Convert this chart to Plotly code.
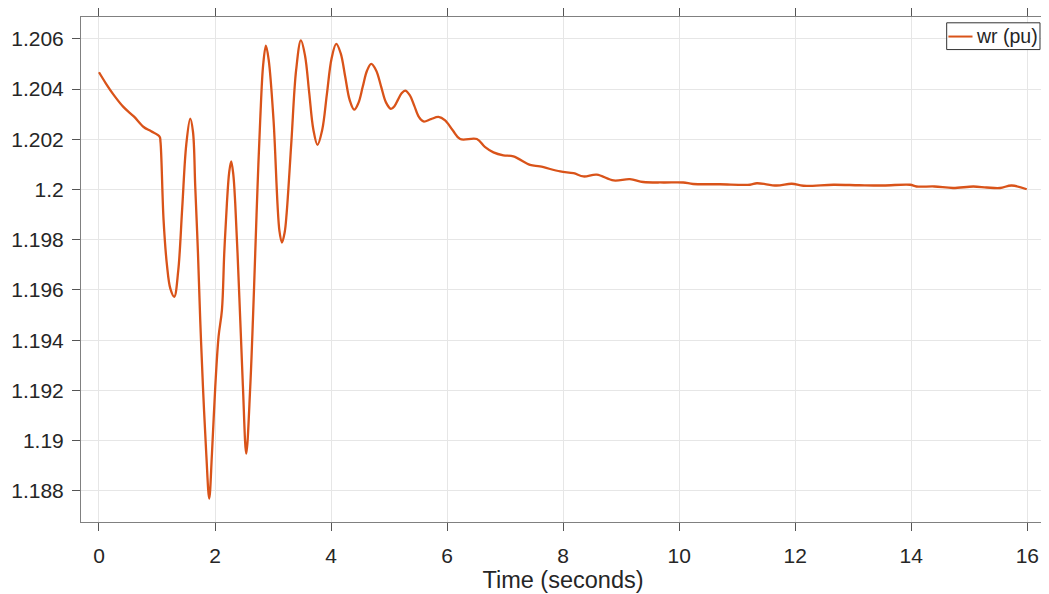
import plotly.graph_objects as go

# Time (s) and rotor speed wr (pu)
time_s = [0.00, 0.12, 0.25, 0.42, 0.60, 0.77, 0.90, 1.044, 1.06,
          1.113, 1.171, 1.23, 1.297, 1.366, 1.435, 1.504, 1.573, 1.62,
          1.659, 1.706, 1.745, 1.792, 1.849, 1.900, 1.947, 2.004, 2.061,
          2.119, 2.159, 2.205, 2.245, 2.279, 2.315, 2.348, 2.388, 2.435,
          2.481, 2.538, 2.607, 2.653, 2.693, 2.733, 2.779, 2.83, 2.877,
          2.925, 3.008, 3.11, 3.153, 3.20, 3.235, 3.3165, 3.398, 3.48,
          3.5515, 3.623, 3.6945, 3.766, 3.847, 3.9275, 4.008, 4.089, 4.1665,
          4.244, 4.3215, 4.399, 4.472, 4.5455, 4.619, 4.692, 4.777, 4.8615,
          4.946, 5.031, 5.0925, 5.154, 5.2155, 5.277, 5.356, 5.435, 5.514,
          5.593, 5.72, 5.851, 5.966, 6.10, 6.225, 6.513, 6.65, 6.799,
          6.97, 7.143, 7.43, 7.60, 7.95, 8.18, 8.35, 8.58, 8.87,
          9.15, 9.38, 9.73, 10.07, 10.24, 10.7, 11.22, 11.34, 11.68,
          11.94, 12.14, 12.66, 13.1, 13.52, 13.98, 14.09, 14.4, 14.72,
          15.07, 15.3, 15.53, 15.73, 15.99]
wr_pu = [1.20467, 1.20422, 1.20378, 1.20329, 1.20291, 1.20249, 1.20232, 1.20211, 1.20190,
         1.19879, 1.19700, 1.19605, 1.19573, 1.19677, 1.19928, 1.20178, 1.20282, 1.20230,
         1.20012, 1.19746, 1.19480, 1.19214, 1.18948, 1.18769, 1.18948, 1.19214, 1.19414,
         1.19520, 1.19746, 1.19946, 1.20070, 1.20112, 1.20060, 1.19946, 1.19746, 1.19480,
         1.19214, 1.18948, 1.19214, 1.19480, 1.19746, 1.20012, 1.20278, 1.20497, 1.20573,
         1.20516, 1.20278, 1.19835, 1.19789, 1.19829, 1.19907, 1.20192, 1.20476, 1.20594,
         1.20533, 1.20386, 1.20239, 1.20178, 1.20237, 1.20379, 1.20521, 1.20580, 1.20542,
         1.20449, 1.20356, 1.20318, 1.20345, 1.20409, 1.20473, 1.20500, 1.20474, 1.20411,
         1.20347, 1.20321, 1.20332, 1.20358, 1.20383, 1.20394, 1.20376, 1.20333, 1.20289,
         1.20271, 1.20280, 1.20289, 1.20275, 1.20235, 1.20201, 1.20201, 1.20170, 1.20148,
         1.20136, 1.20132, 1.20098, 1.20092, 1.20072, 1.20065, 1.20052, 1.20059, 1.20036,
         1.20041, 1.20030, 1.20028, 1.20028, 1.20022, 1.20021, 1.20019, 1.20025, 1.20016,
         1.20023, 1.20015, 1.20019, 1.20017, 1.20016, 1.20019, 1.20012, 1.20012, 1.20006,
         1.20012, 1.20008, 1.20006, 1.20016, 1.20001]

series_name = "wr (pu)"
x_ticks = [0, 2, 4, 6, 8, 10, 12, 14, 16]
y_ticks = [1.188, 1.19, 1.192, 1.194, 1.196, 1.198, 1.2, 1.202, 1.204, 1.206]
y_tick_text = ["1.188", "1.19", "1.192", "1.194", "1.196", "1.198", "1.2", "1.202", "1.204", "1.206"]

LINE_COLOR = "#D95319"
TEXT_COLOR = "#262626"
FONT = "Liberation Sans, Arial, sans-serif"

fig = go.Figure()
fig.add_trace(go.Scatter(
    x=time_s, y=wr_pu, mode="lines", name=series_name, showlegend=False,
    line=dict(color=LINE_COLOR, width=2.3, shape="spline", smoothing=1.0),
))

axis_common = dict(
    showline=True, linecolor="#808080", linewidth=1, mirror="ticks",
    ticks="outside", ticklen=8, tickcolor="#555555", tickwidth=1,
    showgrid=True, gridcolor="#e6e6e6", gridwidth=1, zeroline=False,
    automargin=False,
    tickfont=dict(family=FONT, size=21, color=TEXT_COLOR),
)

# Legend box drawn in paper coordinates (top-right, inside the axes)
fig.add_shape(type="rect", xref="paper", yref="paper",
              x0=0.8980, x1=0.9948, y0=0.9355, y1=0.9885,
              line=dict(color="#333333", width=1), fillcolor="white", layer="above")
fig.add_shape(type="line", xref="paper", yref="paper",
              x0=0.8998, x1=0.9248, y0=0.9613, y1=0.9613,
              line=dict(color=LINE_COLOR, width=2), layer="above")
fig.add_annotation(xref="paper", yref="paper", x=0.9265, y=0.9625,
                   xanchor="left", yanchor="middle", showarrow=False,
                   text=series_name, font=dict(family=FONT, size=19.5, color=TEXT_COLOR))

fig.update_layout(
    width=1041, height=586,
    margin=dict(l=73, r=4, t=9, b=72),
    paper_bgcolor="white", plot_bgcolor="white",
    showlegend=False,
    xaxis=dict(
        range=[-0.31, 16.305], tickvals=x_ticks, ticklabelstandoff=7,
        title=dict(text="Time (seconds)", standoff=5,
                   font=dict(family=FONT, size=23.5, color=TEXT_COLOR)),
        **axis_common,
    ),
    yaxis=dict(
        range=[1.18676, 1.20687], tickvals=y_ticks, ticktext=y_tick_text,
        ticklabelstandoff=4,
        **axis_common,
    ),
)

fig.write_html("out.html")
